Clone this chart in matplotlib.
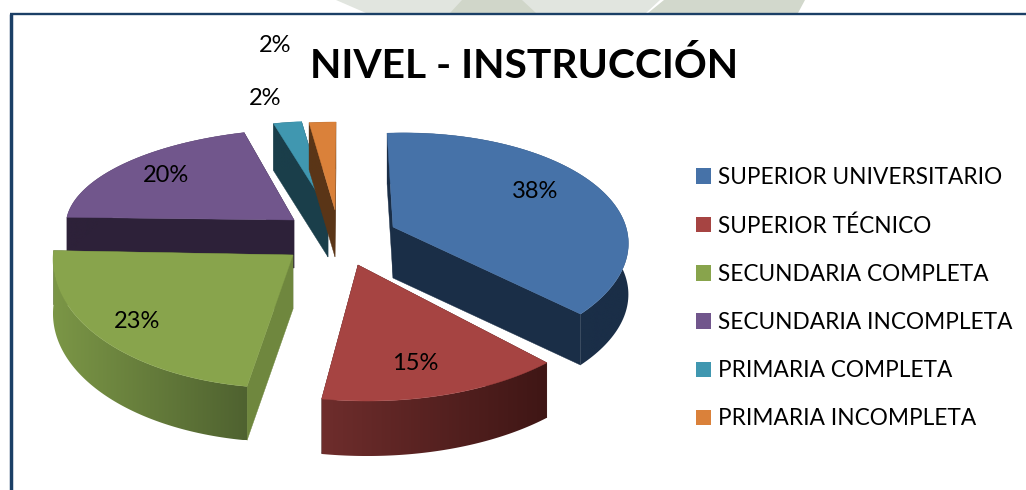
import numpy as np
import matplotlib
matplotlib.use('Agg')
import matplotlib.pyplot as plt
from matplotlib.patches import Polygon
from matplotlib.colors import to_rgb

# Data
categories = ['SUPERIOR UNIVERSITARIO', 'SUPERIOR TÉCNICO', 'SECUNDARIA COMPLETA',
              'SECUNDARIA INCOMPLETA', 'PRIMARIA COMPLETA', 'PRIMARIA INCOMPLETA']
values = [38, 15, 23, 20, 2, 2]
title = 'NIVEL - INSTRUCCIÓN'

# Styles
top_colors = ['#4672a8', '#a64442', '#88a44c', '#71568c', '#4097b0', '#da813a']
face_low = ['#1a2e47', '#431716', '#6f873e', '#2d2139', '#1a3e4a', '#5a3517']
face_high = ['#1a2e47', '#431716', '#4f6230', '#2d2139', '#1a3e4a', '#5a3517']
wall_left = ['#1a2e47', '#6e2d2c', '#7b9646', '#2d2139', '#1a3e4a', '#5a3517']
wall_right = ['#1a2e47', '#3f1615', '#4f6230', '#2d2139', '#1a3e4a', '#5a3517']

# Fake 3D placement of each slice, in pixels: apex x, apex y, a, b, c, d, depth, perspective
placement = [
    (393, 227, 230, -7, -8, -111, 51, 0.183),
    (358, 265, 262, -13, -2, -136, 55, 0),
    (293, 255, 240, 1, -4, -133, 54, 0),
    (294, 220, 228, 7, -3, -91, 48, 0),
    (328, 210, 227, 2, 1, -89, 47, 0),
    (335, 210, 215, 1, 0, -88, 47, 0),
]
draw_order = [3, 4, 5, 0, 2, 1]
label_pos = [(535, 192), (415, 364), (137, 321), (166, 176), (265, 99), (275, 46)]

plt.rcParams['font.family'] = ['Lato', 'DejaVu Sans']

fig = plt.figure(figsize=(10.26, 4.9), dpi=100, facecolor='white')
ax = fig.add_axes([0, 0, 1, 1])

wedges, _ = ax.pie(values, colors=top_colors, startangle=90, counterclock=False)


def to_px(place, theta):
    # unit circle point -> pixel position (y up, same as the data coords)
    cx, cy, a, b, c, d, _, p = place
    ux, uy = np.cos(np.radians(theta)), np.sin(np.radians(theta))
    w = 1 + p * uy
    return cx + (a * ux + b * uy) / w, 490 - (cy + (c * ux + d * uy) / w)


for z, i in enumerate(draw_order):
    w = wedges[i]
    place = placement[i]
    depth = place[6]
    base = 10 + z * 5
    apex = (place[0], 490 - place[1])

    # the two cut faces
    for theta, col in [(w.theta1, face_high[i]), (w.theta2, face_low[i])]:
        x, y = to_px(place, theta)
        ax.add_patch(Polygon([apex, (x, y), (x, y - depth), (apex[0], apex[1] - depth)],
                             closed=True, fc=col, ec=col, lw=0.3, zorder=base))

    # outer wall with a left to right gradient
    th = np.linspace(w.theta1, w.theta2, 120)
    xs, ys = to_px(place, th)
    verts = np.vstack([np.column_stack([xs, ys]), np.column_stack([xs, ys - depth])[::-1]])
    band = Polygon(verts, closed=True, fc='none', ec='none', transform=ax.transData)
    ax.add_patch(band)
    ramp = np.linspace(0, 1, 64)[None, :, None]
    img = (1 - ramp) * np.array(to_rgb(wall_left[i])) + ramp * np.array(to_rgb(wall_right[i]))
    im = ax.imshow(img, extent=(xs.min(), xs.max(), ys.min() - depth, ys.max()),
                   aspect='auto', interpolation='bilinear', zorder=base + 1)
    im.set_clip_path(band)

    # top surface, angles taken from the pie wedge
    ax.add_patch(Polygon(np.vstack([[apex], np.column_stack([xs, ys])]), closed=True,
                         fc=top_colors[i], ec=top_colors[i], lw=0.3, zorder=base + 2))
    w.remove()

ax.set_xlim(0, 1026)
ax.set_ylim(0, 490)
ax.set_aspect('auto')
ax.axis('off')

# percentage labels
for v, (x, y) in zip(values, label_pos):
    ax.text(x, 490 - y, f'{v}%', fontsize=17, color='black', ha='center', va='center', zorder=60)

ax.text(524, 490 - 78, title, fontsize=29.3, fontweight='bold', color='black',
        ha='center', va='baseline', zorder=60)

leg = ax.legend(wedges, categories, loc='upper left', bbox_to_anchor=(696 / 1026, 1 - 167 / 490),
                frameon=False, fontsize=16.3, handlelength=0.66, handleheight=0.66,
                handletextpad=0.31, labelspacing=1.2, borderpad=0, borderaxespad=0)
leg.set_zorder(60)

# faded background graphic at the top and the frame
ax.add_patch(Polygon([(336, 490), (660, 490), (646, 477), (366, 477)], closed=True,
                     fc='#e1e5df', ec='none', zorder=1))
ax.add_patch(Polygon([(462, 490), (522, 490), (536, 477), (450, 477)], closed=True,
                     fc='#d0d6c9', ec='none', zorder=2))
ax.add_patch(Polygon([(664, 490), (805, 490), (798, 477), (648, 477)], closed=True,
                     fc='#d2d8cc', ec='none', zorder=2))
ax.plot([11, 11], [0, 476], color='#1b3f66', lw=2.5, solid_capstyle='butt', zorder=70)
ax.plot([10, 1026], [476, 476], color='#1b3f66', lw=1.7, solid_capstyle='butt', zorder=70)

fig.savefig('out.png', dpi=100)
